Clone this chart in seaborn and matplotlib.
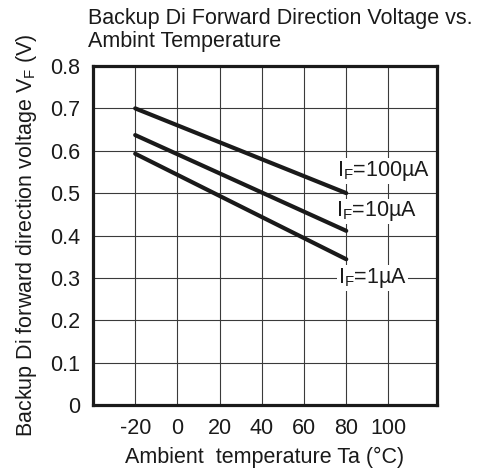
import matplotlib
matplotlib.use("Agg")
import matplotlib.pyplot as plt
import seaborn as sns
import pandas as pd

# Data
temps = [-20, 80]
vf_100uA = [0.700, 0.500]
vf_10uA = [0.637, 0.411]
vf_1uA = [0.593, 0.344]
series_names = ["IF=100µA", "IF=10µA", "IF=1µA"]
label_texts = [r"I$_\mathregular{F}$=100µA", r"I$_\mathregular{F}$=10µA", r"I$_\mathregular{F}$=1µA"]
label_pos_x = [75.5, 75.3, 76.0]
label_pos_y = [0.552, 0.457, 0.300]
x_ticks = [-20, 0, 20, 40, 60, 80, 100]
y_ticks = [0, 0.1, 0.2, 0.3, 0.4, 0.5, 0.6, 0.7, 0.8]
y_ticklabels = ["0", "0.1", "0.2", "0.3", "0.4", "0.5", "0.6", "0.7", "0.8"]

FS = 15.5

sns.set_theme(style="white")
plt.rcParams["font.family"] = ["Liberation Sans", "DejaVu Sans"]
plt.rcParams["mathtext.fontset"] = "custom"
plt.rcParams["mathtext.rm"] = "Liberation Sans"

rows = []
for name, vals in zip(series_names, [vf_100uA, vf_10uA, vf_1uA]):
    for t, v in zip(temps, vals):
        rows.append({"Ta": t, "VF": v, "series": name})
df = pd.DataFrame(rows)

fig = plt.figure(figsize=(4.86, 4.74), dpi=100)
ax = fig.add_axes([93 / 486, 1 - 405 / 474, (437 - 93) / 486, (405 - 66) / 474])

sns.lineplot(data=df, x="Ta", y="VF", hue="series", palette=["#1a1a1a"] * 3,
             linewidth=3.0, legend=False, ax=ax, zorder=3)

ax.set_xlim(-40, 123)
ax.set_ylim(0, 0.8)
ax.set_xticks(x_ticks)
ax.set_xticklabels([str(t) for t in x_ticks])
ax.set_yticks(y_ticks)
ax.set_yticklabels(y_ticklabels)
ax.grid(True, color="#3a3a3a", linewidth=0.8)
ax.set_axisbelow(True)
for s in ax.spines.values():
    s.set_visible(True)
    s.set_color("#1a1a1a")
    s.set_linewidth(2.3)
ax.tick_params(axis="both", length=0, labelsize=FS, colors="#1a1a1a")
ax.tick_params(axis="x", pad=9)
ax.tick_params(axis="y", pad=9)

ax.set_xlabel("Ambient  temperature Ta (°C)", fontsize=FS, color="#1a1a1a", labelpad=6)
ax.set_ylabel(r"Backup Di forward direction voltage V$_\mathregular{F}$ (V)", fontsize=FS,
              color="#1a1a1a", labelpad=8)

for txt, lx, ly in zip(label_texts, label_pos_x, label_pos_y):
    ax.text(lx, ly, txt, fontsize=FS, color="#1a1a1a", ha="left", va="center",
            zorder=4, bbox=dict(facecolor="white", edgecolor="none", pad=0.5))

fig.text(88 / 486, 1 - 8 / 474, "Backup Di Forward Direction Voltage vs.\nAmbint Temperature",
         fontsize=FS, color="#1a1a1a", ha="left", va="top", linespacing=1.12)

fig.savefig("out.png", dpi=100)
